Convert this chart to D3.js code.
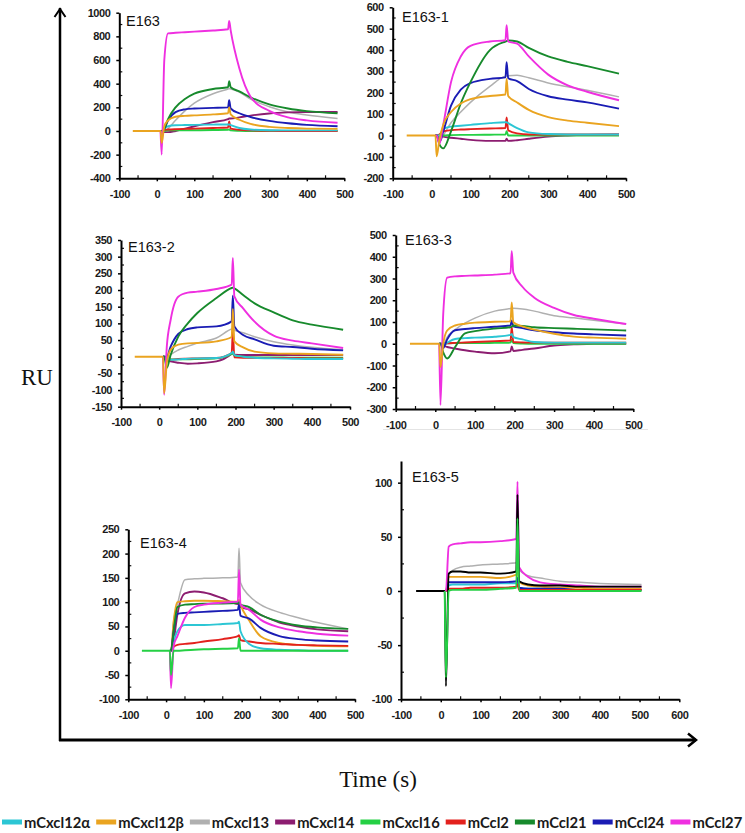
<!DOCTYPE html>
<html><head><meta charset="utf-8">
<script src="https://cdn.jsdelivr.net/npm/d3@7"></script>
<style>body{margin:0;background:#fff}svg{display:block}</style>
</head><body>
<svg id="c" width="745" height="833"></svg>
<script>
// ---------------- DATA ----------------
const seriesNames = ["mCxcl12\u03b1","mCxcl12\u03b2","mCxcl13","mCxcl14","mCxcl16","mCcl2","mCcl21","mCcl24","mCcl27"];
const seriesColors = ["#2cc6d4","#eaa420","#b0b0b0","#8c1d70","#25d044","#e3211d","#178a2c","#1a1cb4","#ef2fe0"];
const panelNames = ["E163","E163-1","E163-2","E163-3","E163-4","E163-5"];

const timeA = [-64,10,13,20,30,50,75,100,150,190,193,197,220,250,300,350,400,482];
const timeB = [-62,10,13,20,30,50,75,100,150,190,193,197,220,250,300,350,400,505];

const xTicksA = [-100,0,100,200,300,400,500];
const xTicksB = [-100,0,100,200,300,400,500,600];
const yTicksE163   = [-400,-200,0,200,400,600,800,1000];
const yTicksE163_1 = [-200,-100,0,100,200,300,400,500,600];
const yTicksE163_2 = [-150,-100,-50,0,50,100,150,200,250,300,350];
const yTicksE163_3 = [-300,-200,-100,0,100,200,300,400,500];
const yTicksE163_4 = [-100,-50,0,50,100,150,200,250];
const yTicksE163_5 = [-100,-50,0,50,100];

// values per series (order of seriesNames), sampled at timeA / timeB
const valsE163 = [
  [null,0,0,20,40,48,50,52,54,55,55,50,25,12,6,5,5,5],
  [0,0,-100,40,90,120,128,132,140,150,200,140,95,60,35,25,20,18],
  [null,0,0,0,20,90,170,235,315,355,358,355,330,270,205,160,135,105],
  [null,0,0,-10,-10,0,20,40,75,100,105,105,115,130,148,157,160,160],
  [null,0,0,0,5,5,5,6,8,10,12,5,2,0,0,0,0,0],
  [null,0,0,10,12,15,18,20,25,30,80,20,10,5,2,0,0,0],
  [null,0,0,20,100,200,270,315,355,370,420,370,335,285,225,190,168,150],
  [null,0,0,20,90,160,183,190,195,200,260,190,150,118,85,65,52,40],
  [null,0,-200,600,825,830,835,840,850,860,930,850,530,290,170,115,90,70]
];
const valsE163_1 = [
  [null,0,0,0,30,42,46,50,58,62,62,58,35,15,7,5,5,5],
  [0,0,-97,-20,50,110,150,170,185,192,265,185,155,120,86,70,60,44],
  [null,0,0,-30,0,60,110,155,230,278,279,280,282,270,246,228,212,181],
  [null,0,0,0,-5,-10,-15,-20,-25,-25,-15,-25,-22,-15,-5,0,3,5],
  [null,0,0,0,0,2,3,3,4,5,20,0,0,0,0,0,0,0],
  [null,0,0,5,20,25,28,30,33,35,85,25,10,5,5,5,5,5],
  [null,0,0,-40,-60,20,150,250,400,440,442,445,440,410,370,345,325,290],
  [null,0,0,-30,20,140,215,245,265,272,343,268,255,218,184,168,155,126],
  [null,0,0,-40,50,250,370,420,440,446,516,440,430,370,285,235,205,165]
];
const valsE163_2 = [
  [null,0,0,-5,-9,-8,-6,-5,-4,11,15,5,0,-3,-5,-6,-7,-7],
  [0,0,-109,-20,21,36,40,41,46,59,143,46,28,15,10,9,8,6],
  [null,0,0,-5,6,20,31,41,56,83,84,80,72,60,45,35,28,21],
  [null,0,0,-10,-14,-18,-21,-20,-14,9,12,6,5,5,5,5,5,5],
  [null,0,0,-5,-8,-8,-8,-7,-5,8,10,3,0,-2,-2,-3,-3,-3],
  [null,0,0,-5,-9,-7,-6,-5,-4,11,76,-2,-3,-3,-4,-4,-5,-5],
  [null,0,0,-34,5,60,100,131,176,206,207,205,185,160,133,109,96,81],
  [null,0,0,0,30,68,83,88,91,106,183,91,65,52,33,29,24,19],
  [null,0,-114,30,110,180,192,195,203,216,296,181,145,105,63,48,40,26]
];
const valsE163_3 = [
  [null,0,0,-5,5,22,26,28,32,41,45,30,20,8,5,5,5,5],
  [0,0,-107,0,61,84,92,97,101,103,190,99,80,65,46,33,28,23],
  [null,0,0,-5,30,65,95,118,150,162,163,163,160,150,129,119,108,91],
  [null,0,0,-8,-15,-22,-30,-36,-44,-35,-12,-33,-28,-22,-8,-3,0,0],
  [null,0,0,0,2,3,3,3,4,5,20,3,1,0,0,0,0,0],
  [null,0,0,0,2,4,6,8,12,15,76,8,6,5,5,5,5,5],
  [null,0,0,-40,-68,-15,48,58,70,76,78,84,82,76,72,69,66,61],
  [null,0,0,-20,20,62,68,72,78,84,107,80,72,62,53,47,43,38],
  [null,0,-282,137,304,310,312,314,318,324,426,327,262,212,165,132,115,91]
];
const valsE163_4 = [
  [null,0,0,20,40,53,53,53,55,57,60,40,14,5,2,1,0,0],
  [null,0,0,60,100,102,103,103,102,101,105,95,62,30,16,12,10,9],
  [null,0,0,60,95,146,148,149,150,152,211,140,113,95,79,68,58,45],
  [null,0,0,20,75,118,122,120,108,96,100,90,85,74,58,50,44,40],
  [0,0,-50,0,0,1,2,3,4,5,26,0,0,0,0,0,0,0],
  [null,0,0,8,12,14,16,19,24,30,32,22,19,16,14,12,11,10],
  [null,0,0,40,90,95,96,97,97,98,100,95,90,74,60,52,48,45],
  [null,0,0,40,76,78,79,80,82,84,95,72,66,47,30,24,21,19],
  [null,0,-77,10,30,68,90,95,99,101,167,95,84,64,48,40,35,31]
];
const valsE163_5 = [
  [null,0,0,5,6,6,6,6,7,7,10,3,2,2,1,1,1,1],
  [null,0,0,13,13,13,13,13,12,15,18,8,5,4,3,3,2,2],
  [null,0,0,15,19,22,23,24,25,26,30,20,14,12,9,8,7,6],
  null,
  [null,0,-80,0,1,1,1,1,2,3,67,0,0,0,0,0,0,0],
  [null,0,0,2,2,2,3,3,3,4,6,1,1,1,1,1,1,1],
  null,
  [null,0,0,8,8,8,8,8,8,9,12,3,2,2,2,1,1,1],
  [null,0,0,41,43,44,45,45,46,48,101,22,13,8,6,5,4,4]
];
const valsE163_5_black = [0,0,-88,16,18,18,17,17,16,18,89,9,6,5,5,4,4,4];

// ---------------- LAYOUT (pixels / styles) ----------------
const layout = [
  {vals:valsE163,   t:timeA, xd:[-100,500], yd:[-400,1000], xr:[119.3,344.3], yr:[178.3,12.7], xt:xTicksA, yt:yTicksE163,   title:[126,26], order:[2,3,4,5,0,7,6,8,1]},
  {vals:valsE163_1, t:timeA, xd:[-100,500], yd:[-200,600],  xr:[392.7,626],   yr:[178.3,7.3],  xt:xTicksA, yt:yTicksE163_1, title:[402,22], order:[2,3,4,5,0,7,6,8,1]},
  {vals:valsE163_2, t:timeA, xd:[-100,500], yd:[-150,350],  xr:[121,350],     yr:[406.7,240],  xt:xTicksA, yt:yTicksE163_2, title:[128,252], order:[2,3,4,5,0,7,6,8,1]},
  {vals:valsE163_3, t:timeA, xd:[-100,500], yd:[-300,500],  xr:[395.7,633.3], yr:[409,235],    xt:xTicksA, yt:yTicksE163_3, title:[405,245], order:[2,3,4,5,0,7,6,8,1]},
  {vals:valsE163_4, t:timeA, xd:[-100,500], yd:[-100,250],  xr:[128.3,355],   yr:[699.3,529.3],xt:xTicksA, yt:yTicksE163_4, title:[140,548], order:[2,3,1,5,0,7,6,8,4]},
  {vals:valsE163_5, t:timeB, xd:[-100,600], yd:[-100,120],  xr:[401,679.3],   yr:[699.3,461],  xt:xTicksB, yt:yTicksE163_5, title:[412,482], order:[2,1,0,7,5,8,9,4]}
];

const tickFont = "'Liberation Sans',Arial,sans-serif";
const svg = d3.select("#c");
svg.append("rect").attr("width",745).attr("height",833).attr("fill","#fff");

// faint rule under panel E163-3 labels
svg.append("line").attr("x1",383).attr("x2",648).attr("y1",429.5).attr("y2",429.5)
   .attr("stroke","#e4e4e4").attr("stroke-width",1);

layout.forEach((L, pi) => {
  const x = d3.scaleLinear().domain(L.xd).range(L.xr);
  const y = d3.scaleLinear().domain(L.yd).range(L.yr);
  const g = svg.append("g");

  // minor ticks
  const xm = d3.range(L.xd[0]+50, L.xd[1], 100);
  g.selectAll(".xm").data(xm).join("line")
    .attr("x1",d=>x(d)).attr("x2",d=>x(d)).attr("y1",L.yr[0]).attr("y2",L.yr[0]-3)
    .attr("stroke","#111").attr("stroke-width",1.2);
  const ystep = L.yt[1]-L.yt[0];
  const ym = d3.range(L.yt[0]+ystep/2, L.yt[L.yt.length-1], ystep);
  g.selectAll(".ym").data(ym).join("line")
    .attr("x1",L.xr[0]).attr("x2",L.xr[0]+3).attr("y1",d=>y(d)).attr("y2",d=>y(d))
    .attr("stroke","#111").attr("stroke-width",1.2);

  const xa = g.append("g").attr("transform",`translate(0,${L.yr[0]})`)
    .call(d3.axisBottom(x).tickValues(L.xt).tickSize(3).tickSizeOuter(0).tickPadding(9).tickFormat(d=>String(d)));
  const ya = g.append("g").attr("transform",`translate(${L.xr[0]},0)`)
    .call(d3.axisLeft(y).tickValues(L.yt).tickSize(3).tickSizeOuter(0).tickPadding(6).tickFormat(d=>String(d)));
  [xa, ya].forEach(a => {
    a.select(".domain").attr("stroke","#000").attr("stroke-width",2);
    a.selectAll(".tick line").attr("stroke","#000").attr("stroke-width",1.5);
    a.selectAll(".tick text").attr("fill","#1a1a1a").style("font-family",tickFont)
      .style("font-size","11px").style("font-weight","bold").style("letter-spacing","-0.45px");
  });

  // curves
  const line = d3.line().defined(d => d[1] !== null)
    .x(d => x(d[0])).y(d => y(d[1])).curve(d3.curveMonotoneX);
  L.order.forEach(si => {
    let vals, color;
    if (si === 9) { vals = valsE163_5_black; color = "#000"; }
    else { vals = L.vals[si]; color = seriesColors[si]; }
    if (!vals) return;
    const pts = L.t.map((t, k) => [t, vals[k]]);
    g.append("path").attr("d", line(pts)).attr("fill","none")
      .attr("stroke", color).attr("stroke-width", si === 2 ? 1.5 : 1.9)
      .attr("stroke-linejoin","round");
  });

  g.append("text").attr("x",L.title[0]).attr("y",L.title[1]).text(panelNames[pi])
    .style("font-family","'Liberation Sans',Arial,sans-serif").style("font-size","14.5px").attr("fill","#111");
});

// outer axes
svg.append("line").attr("x1",60).attr("x2",60).attr("y1",8).attr("y2",741)
   .attr("stroke","#000").attr("stroke-width",2.5);
svg.append("path").attr("d","M54.5,17 L60,9 L65.5,17").attr("fill","none").attr("stroke","#000").attr("stroke-width",2);
svg.append("line").attr("x1",59).attr("x2",696).attr("y1",740).attr("y2",740)
   .attr("stroke","#000").attr("stroke-width",3);
svg.append("path").attr("d","M688,733.5 L696,740 L688,746.5").attr("fill","none").attr("stroke","#000").attr("stroke-width",2.5);

svg.append("text").attr("x",37).attr("y",385).attr("text-anchor","middle").text("RU")
   .style("font-family","'Liberation Serif','DejaVu Serif',serif").style("font-size","23px").attr("fill","#111");
svg.append("text").attr("x",378).attr("y",787).attr("text-anchor","middle").text("Time (s)")
   .style("font-family","'Liberation Serif','DejaVu Serif',serif").style("font-size","23px").attr("fill","#111");

// legend: measure, then fit across the full width
const lg = svg.append("g");
const sw = 20, sg = 2, ig = 6, lx0 = 2, lx1 = 743;
const texts = seriesNames.map(n => lg.append("text").text(n)
  .style("font-family","Lato,'Open Sans',sans-serif").style("font-size","16px").style("font-weight","bold")
  .attr("fill","#1a1a1a").attr("y",827.5));
const sumT = d3.sum(texts, t => t.node().getComputedTextLength());
const avail = (lx1 - lx0) - seriesNames.length*(sw+sg) - (seriesNames.length-1)*ig;
const fs = 16 * avail / sumT;
texts.forEach(t => t.style("font-size", fs + "px"));
let lx = lx0;
seriesNames.forEach((n, i) => {
  lg.append("line").attr("x1",lx).attr("x2",lx+sw).attr("y1",822).attr("y2",822)
    .attr("stroke",seriesColors[i]).attr("stroke-width",5);
  texts[i].attr("x", lx+sw+sg);
  lx = lx + sw + sg + texts[i].node().getComputedTextLength() + ig;
});
</script>
</body></html>
